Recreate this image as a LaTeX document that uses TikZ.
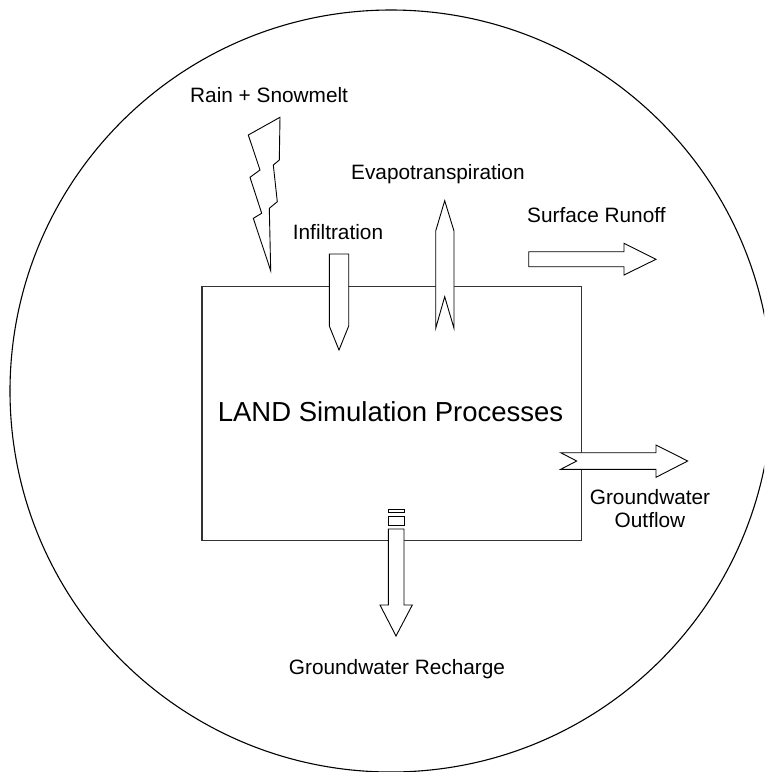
\documentclass[tikz,border=0pt]{standalone}
\usepackage{fontspec}
\setmainfont{Liberation Sans}
\begin{document}
\begin{tikzpicture}[x=1pt,y=-1pt,
  flow/.style={draw=black, line width=0.9pt, fill=white, line join=miter},
  lbl/.style={inner sep=0pt, font=\fontsize{20.8}{23}\selectfont},
  big/.style={inner sep=0pt, font=\fontsize{27.5}{31}\selectfont},
  boundary/.style={draw=black, line width=1.1pt},
  landbox/.style={draw=black!80, line width=1.2pt}]
\useasboundingbox (0,0) rectangle (764,772);
\clip (0,0) rectangle (764,772);

% outer boundary of the land segment
\draw[boundary] (391,391) circle[radius=381pt];

% land storage box
\draw[landbox] (202,286.5) rectangle (581.7,540.7);
\node[big, anchor=base] (land) at (390.5,421) {LAND Simulation Processes};

% precipitation bolt
\draw[flow] (280,117.3) -- (279.3,160) -- (273.3,165) -- (277.3,201.7)
  -- (269.3,208.3) -- (270.7,270.7) -- (253.3,218.3) -- (261.7,213.3)
  -- (250,177.3) -- (260,170) -- (248.3,135) -- cycle;
\node[lbl, anchor=base west] (rain) at (190,102) {Rain + Snowmelt};

% infiltration (down through the top)
\draw[flow] (329.3,254) -- (348.7,254) -- (348.7,326) -- (339,350)
  -- (329.3,326) -- cycle;
\node[lbl, anchor=base west] (infil) at (292.7,239.3) {Infiltration};

% evapotranspiration (up through the top)
\draw[flow] (444.7,200.7) -- (454,231) -- (454,328.3) -- (444.7,296.7)
  -- (435.7,328.3) -- (435.7,231) -- cycle;
\node[lbl, anchor=base west] (et) at (351,179.3) {Evapotranspiration};

% surface runoff
\draw[flow] (528.7,251.7) -- (624,251.7) -- (624,243.3) -- (656,259.3)
  -- (624,275) -- (624,266.7) -- (528.7,266.7) -- cycle;
\node[lbl, anchor=base west] (runoff) at (527,222) {Surface Runoff};

% groundwater outflow
\draw[flow] (560.7,452.7) -- (656,452.7) -- (656,445) -- (687.7,461)
  -- (656,477.3) -- (656,469.3) -- (560.7,469.3) -- (576.7,461) -- cycle;
\node[lbl, anchor=north, align=center] (gwout) at (650,489.5) {Groundwater\\Outflow};

% groundwater recharge (striped arrow)
\draw[flow] (388.3,509) rectangle (404,512.3);
\draw[flow] (388.3,516.7) rectangle (404,525);
\draw[flow] (388.3,529) -- (404,529) -- (404,605) -- (412.3,605)
  -- (396,636) -- (380,605) -- (388.3,605) -- cycle;
\node[lbl, anchor=base] (gwrech) at (397,674) {Groundwater Recharge};
\end{tikzpicture}
\end{document}
